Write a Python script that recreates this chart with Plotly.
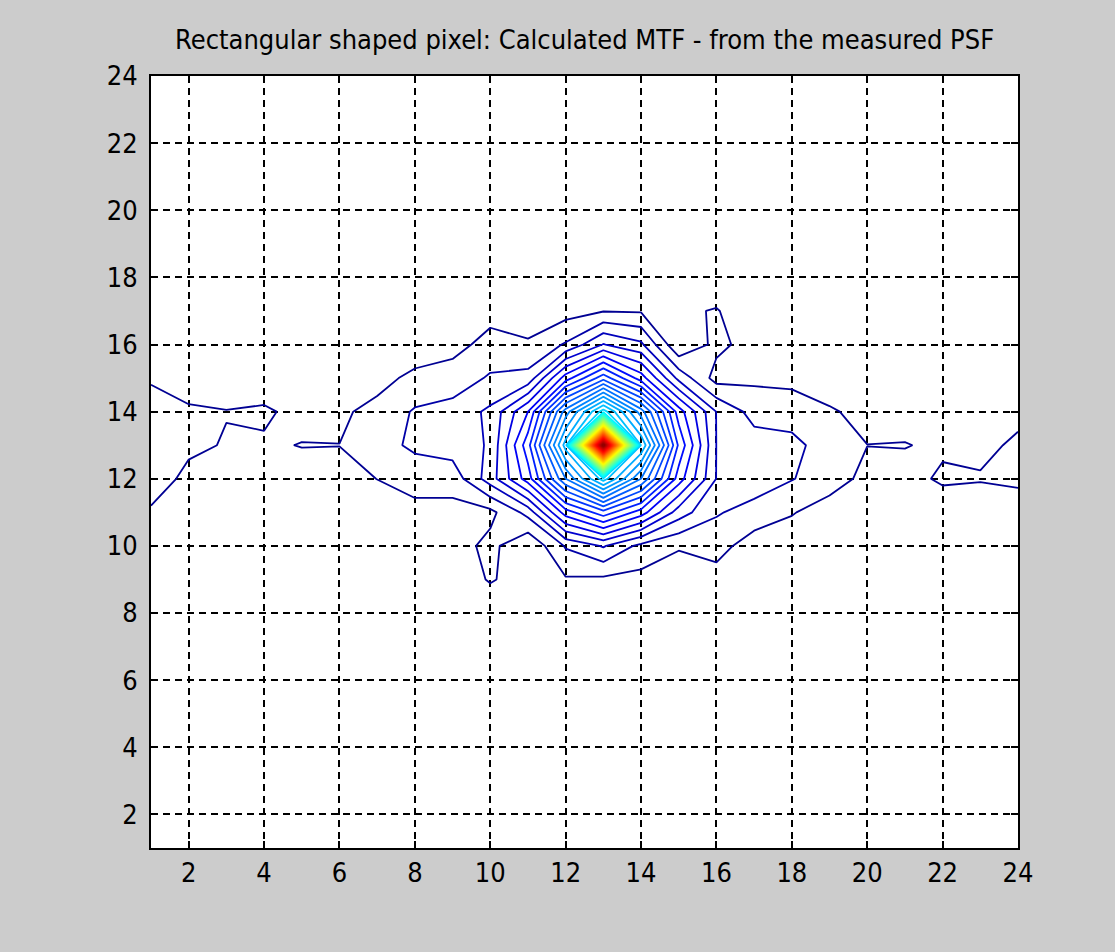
import plotly.graph_objects as go

# grid coordinates (pixel index of the MTF map)
x_vals = list(range(1, 25))
y_vals = list(range(1, 25))

# MTF values (contour level units: level k at value k, peak 51)
# rows are y = 1 .. 24, columns x = 1 .. 24
z_y01 = [0.3, 0.4, 0.3, 0.5, 0.4, 0.3, 0.4, 0.5, 0.3, 0.4, 0.5, 0.4, 0.6, 0.4, 0.5, 0.3, 0.4, 0.5, 0.3, 0.4, 0.3, 0.5, 0.4, 0.3]
z_y02 = [0.4, 0.3, 0.5, 0.4, 0.3, 0.5, 0.4, 0.3, 0.5, 0.4, 0.3, 0.5, 0.4, 0.5, 0.3, 0.4, 0.5, 0.3, 0.4, 0.5, 0.4, 0.3, 0.5, 0.4]
z_y03 = [0.3, 0.5, 0.4, 0.3, 0.5, 0.4, 0.3, 0.5, 0.4, 0.3, 0.5, 0.4, 0.5, 0.4, 0.3, 0.5, 0.4, 0.3, 0.5, 0.3, 0.4, 0.5, 0.3, 0.4]
z_y04 = [0.5, 0.3, 0.4, 0.5, 0.3, 0.4, 0.5, 0.3, 0.4, 0.5, 0.4, 0.3, 0.6, 0.3, 0.4, 0.5, 0.3, 0.4, 0.5, 0.4, 0.3, 0.4, 0.5, 0.3]
z_y05 = [0.4, 0.4, 0.3, 0.4, 0.5, 0.3, 0.4, 0.4, 0.3, 0.5, 0.4, 0.5, 0.4, 0.5, 0.4, 0.3, 0.5, 0.4, 0.3, 0.4, 0.5, 0.3, 0.4, 0.5]
z_y06 = [0.3, 0.5, 0.4, 0.3, 0.4, 0.5, 0.3, 0.4, 0.5, 0.3, 0.4, 0.4, 0.6, 0.4, 0.5, 0.4, 0.3, 0.5, 0.4, 0.3, 0.4, 0.5, 0.3, 0.4]
z_y07 = [0.4, 0.3, 0.5, 0.4, 0.3, 0.4, 0.5, 0.4, 0.3, 0.4, 0.5, 0.5, 0.5, 0.5, 0.4, 0.3, 0.4, 0.3, 0.5, 0.4, 0.3, 0.4, 0.5, 0.3]
z_y08 = [0.3, 0.4, 0.3, 0.4, 0.5, 0.4, 0.3, 0.4, 0.4, 0.2, 0.3, 0.5, 0.6, 0.5, 0.4, 0.4, 0.3, 0.4, 0.3, 0.4, 0.5, 0.3, 0.4, 0.3]
z_y09 = [0.4, 0.3, 0.5, 0.4, 0.3, 0.4, 0.5, 0.4, 0.3, 1.1, 0.5, 0.9, 0.8, 0.7, 0.4, 0.6, 0.3, 0.4, 0.3, 0.4, 0.3, 0.4, 0.3, 0.4]
z_y10 = [0.5, 0.4, 0.3, 0.4, 0.5, 0.4, 0.3, 0.4, 0.5, 1.3, 0.1, 2.1, 3.1, 1.7, 1.1, 1.38, 0.5, 0.4, 0.3, 0.3, 0.4, 0.3, 0.2, 0.3]
z_y11 = [0.8, 0.5, 0.4, 0.4, 0.3, 0.4, 0.5, 0.7, 0.7, 0.72, 2.35, 6.5, 8.6, 6.5, 3.5, 2.1, 1.6, 1.07, 0.5, 0.3, 0.3, 0.2, 0.1, 0.2]
z_y12 = [1.8, 0.6, 0.5, 0.45, 0.5, 0.7, 1.01, 1.4, 1.4, 3.5, 6.5, 12.0, 16.5, 12.0, 6.5, 2.97, 2.6, 2.05, 1.5, 0.7, 0.555, 1.2, 1.1, 1.3]
z_y13 = [1.5, 1.3, 0.9, 0.85, 1.04, 1.01, 1.6, 2.2, 2.5, 3.1, 7.6, 15.5, 51.0, 16.0, 7.8, 2.98, 2.5, 2.3, 1.5, 1.01, 1.05, 0.8, 0.7, 1.2]
z_y14 = [1.2, 1.1, 1.05, 1.2, 0.6, 0.8, 1.35, 2.1, 2.4, 3.2, 6.0, 12.5, 17.5, 12.5, 6.5, 2.97, 1.6, 1.51, 1.15, 0.6, 0.5, 0.5, 0.6, 0.7]
z_y15 = [0.95, 0.65, 0.05, 0.2, 0.3, 0.4, 0.6, 1.3, 1.4, 2.13, 2.3, 6.5, 9.6, 6.5, 2.7, 0.6, 0.81, 0.74, 0.25, 0.4, 0.3, 0.4, 0.5, 0.4]
z_y16 = [0.5, 0.4, 0.3, 0.4, 0.3, 0.4, 0.2, 0.25, 0.7, 1.3, 1.2, 2.1, 4.05, 3.2, 0.08, 1.27, 0.58, 0.4, 0.3, 0.4, 0.3, 0.4, 0.3, 0.4]
z_y17 = [0.4, 0.3, 0.4, 0.3, 0.4, 0.3, 0.4, 0.3, 0.5, 0.7, 0.05, 0.6, 0.95, 0.9, 0.74, 1.1, 0.0, 0.3, 0.4, 0.3, 0.4, 0.3, 0.4, 0.3]
z_y18 = [0.3, 0.4, 0.3, 0.4, 0.3, 0.4, 0.3, 0.4, 0.3, 0.4, 0.3, 0.4, 0.5, 0.4, 0.3, 0.0, 0.3, 0.4, 0.3, 0.4, 0.3, 0.4, 0.3, 0.4]
z_y19 = [0.4, 0.3, 0.4, 0.5, 0.4, 0.3, 0.4, 0.3, 0.4, 0.3, 0.4, 0.5, 0.4, 0.5, 0.4, 0.3, 0.4, 0.3, 0.4, 0.5, 0.4, 0.3, 0.4, 0.3]
z_y20 = [0.3, 0.4, 0.5, 0.3, 0.4, 0.5, 0.3, 0.4, 0.5, 0.4, 0.3, 0.4, 0.5, 0.4, 0.3, 0.4, 0.5, 0.4, 0.3, 0.4, 0.5, 0.3, 0.4, 0.5]
z_y21 = [0.4, 0.5, 0.3, 0.4, 0.5, 0.3, 0.4, 0.5, 0.3, 0.4, 0.5, 0.3, 0.4, 0.3, 0.5, 0.4, 0.3, 0.5, 0.4, 0.3, 0.4, 0.5, 0.3, 0.4]
z_y22 = [0.3, 0.4, 0.4, 0.5, 0.3, 0.4, 0.5, 0.3, 0.4, 0.4, 0.3, 0.5, 0.4, 0.5, 0.4, 0.3, 0.4, 0.4, 0.5, 0.3, 0.4, 0.3, 0.5, 0.3]
z_y23 = [0.5, 0.3, 0.4, 0.3, 0.5, 0.4, 0.3, 0.4, 0.3, 0.5, 0.4, 0.3, 0.5, 0.3, 0.4, 0.5, 0.3, 0.4, 0.3, 0.4, 0.5, 0.4, 0.3, 0.4]
z_y24 = [0.4, 0.4, 0.3, 0.4, 0.3, 0.5, 0.4, 0.3, 0.4, 0.3, 0.5, 0.4, 0.4, 0.4, 0.3, 0.4, 0.5, 0.3, 0.4, 0.5, 0.3, 0.4, 0.4, 0.3]

z_rows = [z_y01, z_y02, z_y03, z_y04, z_y05, z_y06, z_y07, z_y08, z_y09, z_y10, z_y11, z_y12,
          z_y13, z_y14, z_y15, z_y16, z_y17, z_y18, z_y19, z_y20, z_y21, z_y22, z_y23, z_y24]

tick_vals = list(range(2, 25, 2))
title_text = "Rectangular shaped pixel: Calculated MTF - from the measured PSF"

# MATLAB-style jet colour map
jet_scale = [
    [0.0, "rgb(0,0,147)"],
    [0.1097, "rgb(0,0,255)"],
    [0.3699, "rgb(0,255,255)"],
    [0.6301, "rgb(255,255,0)"],
    [0.8903, "rgb(255,0,0)"],
    [1.0, "rgb(147,0,0)"],
]

FONT = "Liberation Sans Narrow, Arial Narrow, DejaVu Sans Condensed, Liberation Sans, sans-serif"

fig = go.Figure(
    go.Contour(
        x=x_vals,
        y=y_vals,
        z=z_rows,
        autocontour=False,
        contours=dict(start=1, end=50, size=1, coloring="lines"),
        colorscale=jet_scale,
        showscale=False,
        line=dict(width=1.8, smoothing=0),
        hoverinfo="skip",
    )
)

axis_common = dict(
    range=[1, 24],
    tickvals=tick_vals,
    ticks="inside",
    ticklen=7,
    tickwidth=1.5,
    tickcolor="black",
    showline=True,
    linecolor="black",
    linewidth=2,
    mirror="ticks",
    showgrid=True,
    gridcolor="black",
    gridwidth=1.5,
    griddash="7px,5px",
    zeroline=False,
    layer="above traces",
    tickfont=dict(family=FONT, size=27, color="black"),
)

fig.update_xaxes(**axis_common, ticklabelstandoff=0)
fig.update_yaxes(**axis_common, ticklabelstandoff=6)

fig.update_layout(
    width=1115,
    height=952,
    autosize=False,
    margin=dict(l=151, r=97, t=76, b=104),
    paper_bgcolor="#cccccc",
    plot_bgcolor="white",
    showlegend=False,
    title=dict(
        text=title_text,
        x=0.5243,
        xanchor="center",
        y=1 - 40 / 952,
        yref="container",
        yanchor="middle",
        font=dict(family=FONT, size=27, color="black"),
    ),
)

fig.write_html("out.html")
